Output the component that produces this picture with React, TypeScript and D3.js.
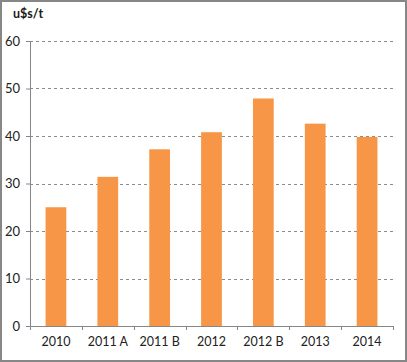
import { useEffect, useRef } from 'react';
import * as d3 from 'd3';

const categories = ['2010', '2011 A', '2011 B', '2012', '2012 B', '2013', '2014'];
const values = [25.0, 31.4, 37.2, 40.8, 47.9, 42.6, 39.8];
const yTicks = [0, 10, 20, 30, 40, 50, 60];
const unitLabel = 'u$s/t';

const width = 407;
const height = 362;

const App = () => {
  const svgRef = useRef<SVGSVGElement>(null);

  useEffect(() => {
    if (!svgRef.current) return;
    const svg = d3.select(svgRef.current);
    svg.selectAll('*').remove();

    const font = 'Lato, "Open Sans", sans-serif';
    const margin = { top: 41, right: 14, bottom: 36, left: 30 };
    const innerWidth = width - margin.left - margin.right;
    const innerHeight = height - margin.top - margin.bottom;

    // outer frame
    svg.append('rect')
      .attr('x', 1).attr('y', 1)
      .attr('width', width - 2).attr('height', height - 2)
      .attr('fill', '#fff')
      .attr('stroke', '#878787')
      .attr('stroke-width', 2);

    svg.append('text')
      .attr('x', 13).attr('y', 18)
      .attr('font-family', font)
      .attr('font-size', 12.5)
      .attr('font-weight', 'bold')
      .attr('fill', '#1a1a1a')
      .text(unitLabel);

    const x = d3.scaleBand()
      .domain(categories)
      .range([0, innerWidth])
      .paddingInner(0.6)
      .paddingOuter(0.3);

    const y = d3.scaleLinear()
      .domain([0, 60])
      .range([innerHeight, 0]);

    const g = svg.append('g')
      .attr('transform', `translate(${margin.left},${margin.top})`);

    // grid
    g.selectAll('.grid')
      .data(yTicks.filter(t => t > 0))
      .enter().append('line')
      .attr('x1', 0).attr('x2', innerWidth)
      .attr('y1', d => Math.round(y(d)) + 0.5)
      .attr('y2', d => Math.round(y(d)) + 0.5)
      .attr('stroke', '#8c8c8c')
      .attr('stroke-dasharray', '3,3');

    g.selectAll('.bar')
      .data(values)
      .enter().append('rect')
      .attr('x', (_, i) => x(categories[i]) || 0)
      .attr('y', d => y(d))
      .attr('width', x.bandwidth())
      .attr('height', d => innerHeight - y(d))
      .attr('fill', '#f79646');

    // y axis
    const yAxis = g.append('g')
      .call(d3.axisLeft(y).tickValues(yTicks).tickSize(4).tickSizeOuter(0));
    yAxis.select('.domain').attr('stroke', '#868686');
    yAxis.selectAll('.tick line').attr('stroke', '#868686');
    yAxis.selectAll('.tick text')
      .attr('font-family', font)
      .attr('font-size', 13)
      .attr('fill', '#222')
      .attr('x', -10);

    // x axis
    const xAxis = g.append('g')
      .attr('transform', `translate(0,${innerHeight})`)
      .call(d3.axisBottom(x).tickSize(0).tickSizeOuter(0));
    xAxis.select('.domain').attr('stroke', '#868686');
    xAxis.selectAll('.tick text')
      .attr('font-family', font)
      .attr('font-size', 12.5)
      .attr('fill', '#222')
      .attr('y', 11);

    // category separators
    const step = x.step();
    const start = (x(categories[0]) || 0) - x.paddingOuter() * step - (step - x.bandwidth()) / 2 + x.paddingOuter() * step;
    xAxis.selectAll('.sep')
      .data(d3.range(categories.length + 1))
      .enter().append('line')
      .attr('x1', i => Math.round(i * innerWidth / categories.length) + 0.5)
      .attr('x2', i => Math.round(i * innerWidth / categories.length) + 0.5)
      .attr('y1', 0).attr('y2', 4)
      .attr('stroke', '#868686');
    void start;
  }, []);

  return (
    <svg
      ref={svgRef}
      width={width}
      height={height}
      style={{ position: 'absolute', left: 0, top: 0 }}
    />
  );
};

export default App;
